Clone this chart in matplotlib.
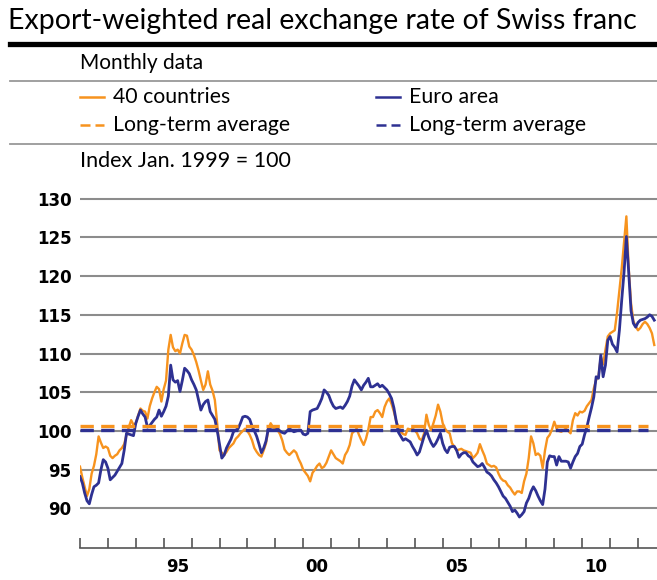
import numpy as np
import matplotlib
matplotlib.use('Agg')
import matplotlib.pyplot as plt
from matplotlib.lines import Line2D

# Export-weighted real exchange rate, monthly, Jan 1992 - Aug 2012
countries_40 = [
    95.4, 94.0, 92.8, 91.6, 92.5, 94.5, 95.5, 97.0, 99.3, 98.5, 97.8, 98.0,        # 1992
    97.8, 96.8, 96.5, 96.8, 97.0, 97.5, 97.8, 98.3, 99.5, 100.5, 101.4, 100.8,     # 1993
    101.0, 102.0, 102.9, 102.6, 102.5, 101.6, 103.2, 104.2, 105.0, 105.7, 105.4, 103.8,  # 1994
    105.4, 106.5, 110.5, 112.4, 110.8, 110.3, 110.5, 110.0, 111.3, 112.4, 112.3, 110.9,  # 1995
    110.5, 109.8, 108.9, 107.8, 106.5, 105.3, 106.0, 107.7, 106.0, 105.2, 104.0, 101.0,  # 1996
    97.5, 97.2, 96.9, 97.3, 97.8, 98.1, 98.4, 99.0, 99.3, 99.7, 100.0, 100.3,      # 1997
    100.0, 99.5, 98.8, 97.8, 97.3, 96.9, 96.7, 97.5, 98.4, 100.2, 101.0, 100.5,    # 1998
    100.3, 100.1, 99.6, 98.8, 97.6, 97.2, 96.9, 97.2, 97.5, 97.2, 96.4, 95.8,      # 1999
    95.0, 94.6, 94.2, 93.5, 94.6, 95.0, 95.5, 95.8, 95.2, 95.4, 95.9, 96.7,        # 2000
    97.5, 97.0, 96.5, 96.3, 96.1, 95.8, 96.9, 97.4, 98.2, 99.7, 100.0, 100.3,      # 2001
    99.5, 98.8, 98.2, 99.0, 100.2, 101.8, 101.8, 102.5, 102.7, 102.3, 101.8, 103.1,  # 2002
    103.8, 104.2, 103.5, 102.5, 101.3, 100.5, 99.9, 99.6, 99.5, 100.3, 100.2, 100.3,  # 2003
    100.1, 99.7, 99.0, 98.8, 99.7, 102.1, 100.8, 100.1, 101.0, 102.0, 103.4, 102.5,  # 2004
    101.0, 100.3, 99.9, 99.7, 98.4, 98.0, 97.5, 97.6, 97.7, 97.5, 97.4, 97.3,      # 2005
    97.2, 96.5, 96.8, 97.2, 98.3, 97.5, 96.8, 95.8, 95.6, 95.4, 95.5, 95.3,        # 2006
    94.5, 93.9, 93.6, 93.5, 93.0, 92.7, 92.2, 91.8, 92.2, 92.2, 92.0, 93.5,        # 2007
    94.5, 96.5, 99.3, 98.4, 96.9, 97.1, 96.8, 95.2, 97.5, 99.1, 99.5, 100.2,       # 2008
    101.2, 100.3, 100.0, 99.9, 100.1, 100.3, 100.0, 99.7, 101.4, 102.3, 102.0, 102.5,  # 2009
    102.4, 102.6, 103.2, 103.6, 104.0, 105.5, 106.6, 107.0, 109.6, 108.6, 110.5, 112.2,  # 2010
    112.6, 112.8, 113.0, 115.3, 118.2, 121.0, 124.3, 127.7, 121.0, 116.5, 114.2, 113.5,  # 2011
    113.0, 113.3, 113.8, 114.1, 113.8, 113.3, 112.6, 111.1,                        # 2012
]

euro_area = [
    94.1, 93.3, 92.0, 91.0, 90.6, 91.8, 92.8, 93.0, 93.3, 95.0, 96.3, 96.0,        # 1992
    95.2, 93.7, 94.0, 94.3, 94.8, 95.3, 95.8, 97.5, 99.7, 99.6, 99.5, 99.4,        # 1993
    101.0, 101.9, 102.7, 102.2, 101.8, 100.5, 100.7, 101.1, 101.5, 101.8, 102.7, 101.9,  # 1994
    102.5, 103.2, 104.5, 108.5, 106.6, 106.3, 106.5, 105.1, 106.5, 108.1, 107.8, 107.4,  # 1995
    106.6, 106.0, 105.3, 104.0, 102.7, 103.4, 103.8, 104.0, 102.5, 102.0, 101.5, 100.1,  # 1996
    98.3, 96.5, 96.9, 97.8, 98.4, 99.0, 99.9, 100.1, 100.3, 101.0, 101.8, 101.9,   # 1997
    101.8, 101.5, 100.6, 100.0, 99.3, 98.3, 97.2, 97.8, 98.7, 100.3, 100.2, 100.1,  # 1998
    100.1, 100.3, 100.0, 99.8, 99.7, 100.0, 100.3, 100.1, 99.9, 100.0, 100.1, 100.1,  # 1999
    99.6, 99.5, 99.7, 102.5, 102.7, 102.8, 102.9, 103.5, 104.2, 105.3, 105.0, 104.6,  # 2000
    103.8, 103.2, 102.9, 103.0, 103.1, 102.9, 103.3, 103.8, 104.5, 105.8, 106.6, 106.2,  # 2001
    105.8, 105.3, 105.9, 106.3, 106.8, 105.7, 105.7, 105.9, 106.1, 105.7, 105.9, 105.6,  # 2002
    105.3, 104.8, 104.2, 103.0, 101.3, 99.8, 99.3, 98.8, 99.0, 98.8, 98.6, 98.0,   # 2003
    97.5, 96.9, 97.3, 98.3, 99.3, 100.1, 99.2, 98.5, 98.0, 98.4, 99.0, 99.7,       # 2004
    98.4, 97.6, 97.2, 97.9, 98.0, 98.0, 97.5, 96.6, 97.0, 97.2, 97.2, 96.8,        # 2005
    96.6, 96.0, 95.7, 95.4, 95.5, 95.8, 95.3, 94.7, 94.5, 94.2, 93.7, 93.3,        # 2006
    92.8, 92.2, 91.6, 91.3, 90.8, 90.3, 89.6, 89.8, 89.4, 88.9, 89.2, 89.6,        # 2007
    90.7, 91.3, 92.2, 92.8, 92.3, 91.6, 91.0, 90.5, 92.5, 96.0, 96.8, 96.7,        # 2008
    96.7, 95.6, 96.7, 96.1, 96.1, 96.1, 96.0, 95.2, 96.0, 96.7, 97.1, 98.0,        # 2009
    98.3, 99.5, 100.5, 101.8, 103.0, 104.4, 107.0, 106.8, 109.8, 107.0, 108.5, 111.7,  # 2010
    112.2, 111.2, 110.8, 110.2, 113.0, 116.9, 120.5, 125.1, 120.5, 115.5, 113.9, 113.4,  # 2011
    114.0, 114.3, 114.4, 114.5, 114.7, 115.0, 114.8, 114.3,                        # 2012
]

avg_40 = 100.7
avg_euro = 100.15

y_ticks = [90, 95, 100, 105, 110, 115, 120, 125, 130]
year_ticks = list(range(1992, 2013))
label_years = [1995, 2000, 2005, 2010]
label_text = ['95', '00', '05', '10']

ORANGE = '#f7931e'
BLUE = '#2e3192'
TXT = 'Lato'

months = 1992 + np.arange(len(countries_40)) / 12.0

W, H = 657, 580
fig = plt.figure(figsize=(W / 100, H / 100), dpi=100)
ax = fig.add_axes([80 / W, 1 - 548 / H, (W - 80) / W, (548 - 190) / H])

ax.plot(months, countries_40, color=ORANGE, lw=1.7, zorder=3)
ax.plot(months, euro_area, color=BLUE, lw=2.0, zorder=4)
ax.plot([months[0], 2012.35], [avg_40, avg_40], color=ORANGE, lw=2.4,
        dashes=(4, 2.2), zorder=5)
ax.plot([months[0], 2012.35], [avg_euro, avg_euro], color=BLUE, lw=2.4,
        dashes=(4, 2.2), zorder=5)

ax.set_xlim(1992, 1992 + 577 / 27.9)
ax.set_ylim(84.9, 131.1)

ax.set_yticks(y_ticks)
ax.set_yticklabels([str(v) for v in y_ticks], fontsize=12, fontweight='bold',
                   family='DejaVu Sans')
ax.tick_params(axis='y', length=0, pad=6)
ax.grid(axis='y', color='#8c8c8c', lw=1.5, zorder=1)

ax.set_xticks(year_ticks)
ax.set_xticks([y + 0.5 for y in label_years], minor=True)
ax.set_xticklabels(label_text, minor=True, fontsize=12, fontweight='bold',
                   family='DejaVu Sans')
ax.tick_params(axis='x', which='major', direction='in', length=7, width=1.2,
               color='#555555', labelbottom=False)
ax.tick_params(axis='x', which='minor', length=0, pad=7)

for side in ['top', 'left', 'right']:
    ax.spines[side].set_visible(False)
ax.spines['bottom'].set_color('#555555')
ax.spines['bottom'].set_linewidth(1.2)

# header block
def fy(py):
    return 1 - py / H

fig.text(8 / W, fy(21), 'Export-weighted real exchange rate of Swiss franc',
         fontsize=20.5, family=TXT, va='center')
fig.add_artist(Line2D([10 / W, 1], [fy(44), fy(44)], color='black', lw=3.8))
fig.text(80 / W, fy(63), 'Monthly data', fontsize=15, family=TXT, va='center')
fig.add_artist(Line2D([10 / W, 1], [fy(81), fy(81)], color='#999999', lw=1.3))
fig.add_artist(Line2D([10 / W, 1], [fy(144), fy(144)], color='#999999', lw=1.3))
fig.text(80 / W, fy(161), 'Index Jan. 1999 = 100', fontsize=15.5, family=TXT,
         va='center')

legend_rows = [
    (80, 97, ORANGE, None, '40 countries'),
    (80, 125, ORANGE, (4, 2), 'Long-term average'),
    (376, 97, BLUE, None, 'Euro area'),
    (376, 125, BLUE, (4, 2), 'Long-term average'),
]
for px, py, col, dash, label in legend_rows:
    ln = Line2D([px / W, (px + 24) / W], [fy(py), fy(py)], color=col, lw=1.8)
    if dash:
        ln.set_dashes(dash)
    fig.add_artist(ln)
    fig.text((px + 33) / W, fy(py), label, fontsize=15.3, family=TXT,
             va='center')

fig.savefig('out.png', dpi=100)
